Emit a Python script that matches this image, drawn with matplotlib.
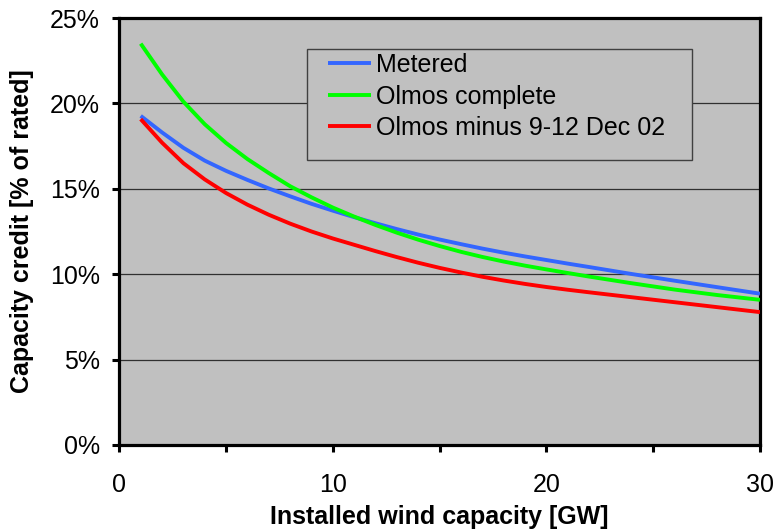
import matplotlib
matplotlib.use("Agg")
import matplotlib.pyplot as plt
from matplotlib.patches import Rectangle
from matplotlib.ticker import FuncFormatter

plt.rcParams['font.family'] = ['Liberation Sans', 'DejaVu Sans']

# installed wind capacity [GW]
gw = [1, 2, 3, 4, 5, 6, 7, 8, 9, 10, 11, 12, 13, 14, 15, 16, 17, 18, 19, 20,
      21, 22, 24, 26, 28, 30]
# capacity credit [% of rated]
metered = [19.27, 18.3, 17.4, 16.65, 16.05, 15.52, 15.02, 14.56, 14.12, 13.72,
           13.34, 12.98, 12.64, 12.32, 12.03, 11.76, 11.5, 11.26, 11.04, 10.83,
           10.62, 10.42, 10.01, 9.62, 9.24, 8.86]
olmos_complete = [23.5, 21.7, 20.1, 18.78, 17.68, 16.74, 15.92, 15.15, 14.5, 13.9,
                  13.37, 12.88, 12.43, 12.02, 11.65, 11.31, 11.01, 10.74, 10.5, 10.28,
                  10.07, 9.86, 9.47, 9.1, 8.78, 8.5]
olmos_minus = [19.08, 17.7, 16.5, 15.55, 14.75, 14.07, 13.48, 12.96, 12.5, 12.09,
               11.72, 11.35, 11.0, 10.67, 10.37, 10.1, 9.85, 9.63, 9.43, 9.25,
               9.09, 8.94, 8.65, 8.36, 8.07, 7.78]
labels = ['Metered', 'Olmos complete', 'Olmos minus 9-12 Dec 02']
colors = ['#3366FF', '#00FF00', '#FF0000']

fig = plt.figure(figsize=(7.75, 5.3), dpi=100)
ax = fig.add_axes([0.154, 0.1604, 0.8266, 0.8056])
ax.set_facecolor('#C0C0C0')

for ys, lab, c in zip([metered, olmos_complete, olmos_minus], labels, colors):
    ax.plot(gw, ys, color=c, lw=2.8, label=lab, zorder=3,
            solid_capstyle='butt', solid_joinstyle='round')

ax.set_xlim(0, 30)
ax.set_ylim(0, 25)
ax.set_xticks([0, 10, 20, 30])
ax.set_xticks([5, 15, 25], minor=True)
ax.set_yticks([0, 5, 10, 15, 20, 25])
ax.yaxis.set_major_formatter(FuncFormatter(lambda v, p: '%d%%' % v))
ax.yaxis.grid(True, color='#303030', lw=0.9)
ax.set_axisbelow(True)

for s in ax.spines.values():
    s.set_linewidth(2.3)
    s.set_color('black')
ax.tick_params(axis='both', which='both', direction='out', length=5, width=2.2, labelsize=18)
ax.tick_params(axis='x', which='major', pad=15)
ax.tick_params(axis='y', pad=9)

ax.set_xlabel('Installed wind capacity [GW]', fontsize=18, fontweight='bold')
ax.xaxis.set_label_coords(0.5, -0.1686)
ax.xaxis.label.set_va('center')
ax.set_ylabel('Capacity credit [% of rated]', fontsize=18, fontweight='bold')
ax.yaxis.set_label_coords(-0.152, 0.5)
ax.yaxis.label.set_va('center')

# legend box
ax.add_patch(Rectangle((0.293, 0.667), 0.601, 0.26, transform=ax.transAxes,
                       facecolor='#C0C0C0', edgecolor='#404040', lw=1.0, zorder=4))
ax.legend(loc='upper left', bbox_to_anchor=(0.3257, 0.918), frameon=False,
          fontsize=18, handlelength=1.72, handletextpad=0.2, labelspacing=0.3,
          borderpad=0, borderaxespad=0)

fig.savefig('out.png', dpi=100)
